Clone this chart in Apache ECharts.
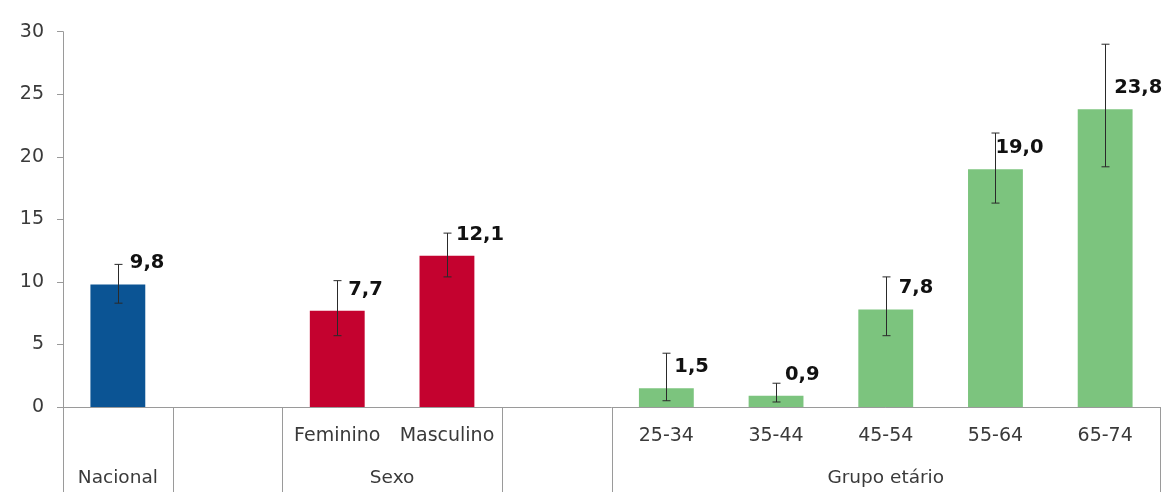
<!DOCTYPE html>
<html>
<head>
<meta charset="utf-8">
<script src="https://cdn.jsdelivr.net/npm/echarts@6/dist/echarts.min.js"></script>
<style>html,body{margin:0;padding:0;background:#fff;}#c{width:1173px;height:492px;}</style>
</head>
<body>
<div id="c"></div>
<script>
// ---- data ----
const categories = ['Nacional', '', 'Feminino', 'Masculino', '', '25-34', '35-44', '45-54', '55-64', '65-74'];
const categoryLabels = ['', '', 'Feminino', 'Masculino', '', '25-34', '35-44', '45-54', '55-64', '65-74'];
const values = [9.8, null, 7.7, 12.1, null, 1.5, 0.9, 7.8, 19.0, 23.8];
const errLow = [8.3, null, 5.7, 10.4, null, 0.5, 0.4, 5.7, 16.3, 19.2];
const errHigh = [11.4, null, 10.1, 13.9, null, 4.3, 1.9, 10.4, 21.9, 29.0];
const groupNames = ['Nacional', 'Sexo', 'Grupo etário'];
const groupStart = [0, 2, 5];
const groupEnd = [1, 4, 10];
const separators = [0, 1, 2, 4, 5, 10];
const yTicks = [0, 5, 10, 15, 20, 25, 30];

// ---- styles ----
const groupColors = ['#0B5494', '#C4022F', '#7CC47E'];
const catGroup = [0, 0, 1, 1, 1, 2, 2, 2, 2, 2];
const labelDx = [12, 0, 11, 9, 0, 8, 9, 13, 0, 9];
const FONT = 'DejaVu Sans, Verdana, sans-serif';
const AXIS_GRAY = '#9A9A9A';

const barData = values.map((v, i) => v == null ? null : {
  value: v,
  itemStyle: { color: groupColors[catGroup[i]] },
  label: { offset: [labelDx[i], -21] }
});
const errData = values.map((v, i) => [i, errLow[i], errHigh[i]]).filter(d => d[1] != null);

const chart = echarts.init(document.getElementById('c'), null, { renderer: 'canvas' });
chart.setOption({
  animation: false,
  backgroundColor: '#fff',
  grid: [
    { left: 63, right: 13, top: 31.7, bottom: 85, containLabel: false },
    { left: 63, right: 13, top: 407, bottom: 0, containLabel: false }
  ],
  xAxis: [
    {
      type: 'category', gridIndex: 0, data: categories,
      axisLine: { show: true, lineStyle: { color: AXIS_GRAY, width: 1 } },
      axisTick: { show: false },
      axisLabel: {
        interval: 0, margin: 20, color: '#3a3a3a', fontSize: 19, fontFamily: FONT,
        formatter: (v, i) => categoryLabels[i]
      }
    },
    {
      type: 'value', gridIndex: 1, min: 0, max: 10,
      axisLine: { show: false }, axisTick: { show: false }, axisLabel: { show: false }, splitLine: { show: false }
    }
  ],
  yAxis: [
    {
      type: 'value', gridIndex: 0, min: 0, max: 30, interval: 5,
      axisLine: { show: true, lineStyle: { color: AXIS_GRAY, width: 1 } },
      axisTick: { show: true, length: 6, lineStyle: { color: AXIS_GRAY } },
      splitLine: { show: false },
      axisLabel: {
        margin: 19, color: '#3a3a3a', fontSize: 19, fontFamily: FONT,
        formatter: v => yTicks.includes(v) ? String(v) : ''
      }
    },
    {
      type: 'value', gridIndex: 1, min: 0, max: 1,
      axisLine: { show: false }, axisTick: { show: false }, axisLabel: { show: false }, splitLine: { show: false }
    }
  ],
  series: [
    {
      type: 'bar', xAxisIndex: 0, yAxisIndex: 0, data: barData, barWidth: '50%',
      label: {
        show: true, position: 'top', distance: 0, align: 'left', verticalAlign: 'middle',
        color: '#111', fontWeight: 'bold', fontSize: 19.5, fontFamily: FONT,
        formatter: p => p.value.toFixed(1).replace('.', ',')
      },
      z: 2
    },
    {
      type: 'custom', xAxisIndex: 0, yAxisIndex: 0, data: errData, z: 5,
      renderItem: (params, api) => {
        const x = api.value(0);
        const lo = api.coord([x, api.value(1)]);
        const hi = api.coord([x, api.value(2)]);
        const cx = Math.round(lo[0]) + 0.5;
        const w = 4;
        const st = { stroke: '#2a2a2a', lineWidth: 1 };
        return {
          type: 'group',
          children: [
            { type: 'line', shape: { x1: cx, y1: lo[1], x2: cx, y2: hi[1] }, style: st },
            { type: 'line', shape: { x1: cx - w, y1: lo[1], x2: cx + w, y2: lo[1] }, style: st },
            { type: 'line', shape: { x1: cx - w, y1: hi[1], x2: cx + w, y2: hi[1] }, style: st }
          ]
        };
      }
    },
    {
      type: 'custom', xAxisIndex: 1, yAxisIndex: 1, data: separators.map(s => [s]),
      renderItem: (params, api) => {
        const top = api.coord([api.value(0), 1]);
        const bot = api.coord([api.value(0), 0]);
        const x = Math.round(top[0]) + 0.5;
        return { type: 'line', shape: { x1: x, y1: top[1], x2: x, y2: bot[1] }, style: { stroke: AXIS_GRAY, lineWidth: 1 } };
      }
    },
    {
      type: 'custom', xAxisIndex: 1, yAxisIndex: 1,
      data: groupNames.map((n, i) => [groupStart[i], groupEnd[i]]),
      renderItem: (params, api) => {
        const a = api.coord([api.value(0), 1]);
        const b = api.coord([api.value(1), 1]);
        return {
          type: 'text',
          style: {
            x: (a[0] + b[0]) / 2, y: a[1] + 71,
            text: groupNames[params.dataIndex],
            fill: '#3a3a3a', font: '18.5px ' + FONT,
            align: 'center', verticalAlign: 'middle'
          }
        };
      }
    }
  ]
});
</script>
</body>
</html>
